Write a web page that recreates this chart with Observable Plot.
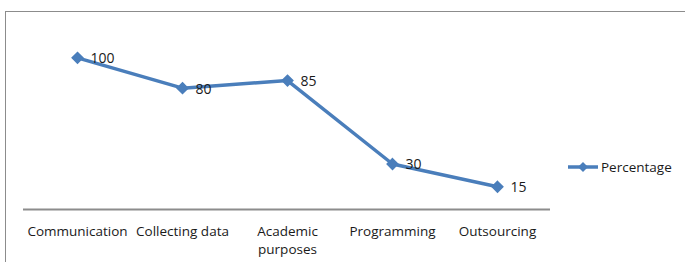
<!DOCTYPE html>
<html>
<head>
<meta charset="utf-8">
<script src="https://cdn.jsdelivr.net/npm/d3@7"></script>
<script src="https://cdn.jsdelivr.net/npm/@observablehq/plot@0.6"></script>
<style>
  html, body { margin: 0; padding: 0; background: #fff; }
  #wrap { position: relative; width: 685px; height: 262px; overflow: hidden; font-family: "Open Sans", sans-serif; }
  #frame { position: absolute; left: 5px; top: 11px; width: 700px; height: 300px; border-left: 1.5px solid #8c8c8c; border-top: 1.5px solid #8c8c8c; }
  #chart { position: absolute; left: 0; top: 0; }
  #legend { position: absolute; left: 567px; top: 157px; display: flex; align-items: center; font-size: 13.5px; color: #1a1a1a; }
</style>
</head>
<body>
<div id="wrap">
  <div id="frame"></div>
  <div id="chart"></div>
  <div id="legend"></div>
</div>
<script>
const categories = ["Communication", "Collecting data", "Academic purposes", "Programming", "Outsourcing"];
const tickLabels = ["Communication", "Collecting data", "Academic\npurposes", "Programming", "Outsourcing"];
const values = [100, 80, 85, 30, 15];
const seriesName = "Percentage";

const color = "#4a7ebb";
const data = categories.map((c, i) => ({category: c, value: values[i]}));
const labelOf = new Map(categories.map((c, i) => [c, tickLabels[i]]));

const chart = Plot.plot({
  width: 685,
  height: 262,
  marginLeft: 23,
  marginRight: 135,
  marginTop: 27,
  marginBottom: 53,
  style: {fontFamily: "Open Sans, sans-serif", fontSize: "13.5px", color: "#1a1a1a", background: "transparent"},
  x: {type: "point", domain: categories, padding: 0.5, label: null},
  y: {domain: [0, 120], axis: null},
  marks: [
    Plot.ruleY([0], {stroke: "#8c8c8c", strokeWidth: 2}),
    Plot.axisX({tickSize: 0, tickPadding: 14, tickFormat: d => labelOf.get(d), fontSize: 13.5, fill: "#1a1a1a", lineHeight: 1.32}),
    Plot.line(data, {x: "category", y: "value", stroke: color, strokeWidth: 3.5}),
    Plot.dot(data, {x: "category", y: "value", symbol: "diamond2", r: 4.8, fill: color, stroke: color}),
    Plot.text(data, {x: "category", y: "value", text: d => String(d.value), dx: 13, dy: 1, textAnchor: "start", fontSize: 14, fill: "#1a1a1a"})
  ]
});
document.getElementById("chart").appendChild(chart);

const leg = document.getElementById("legend");
leg.innerHTML = `<svg width="32" height="20"><line x1="1" y1="10" x2="31" y2="10" stroke="${color}" stroke-width="3.5"/><path d="M16,5 L21,10 L16,15 L11,10 Z" fill="${color}"/></svg><span style="margin-left:2px">${seriesName}</span>`;
</script>
</body>
</html>
